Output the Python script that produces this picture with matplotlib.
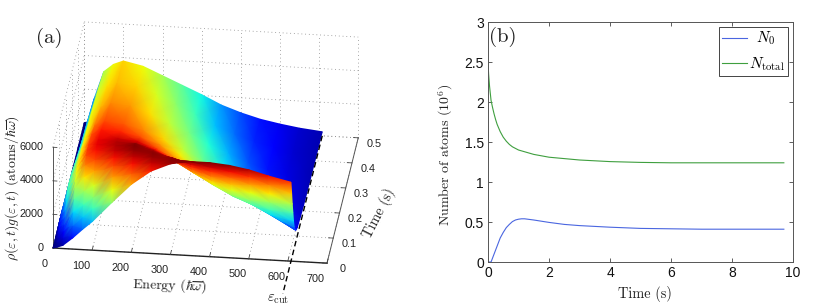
import numpy as np
import matplotlib
matplotlib.use("Agg")
import matplotlib.pyplot as plt
from mpl_toolkits.mplot3d import proj3d

plt.rcParams['mathtext.fontset'] = 'cm'
plt.rcParams['font.family'] = ['Liberation Sans', 'DejaVu Sans']
plt.rcParams['axes.unicode_minus'] = False

# ---------- data, panel (a) ----------
energy = [0, 10, 25, 50, 75, 100, 150, 200, 250, 300, 350, 400, 450, 500, 550, 608]
times_a = [0, .01, .02, .03, .04, .05, .065, .08, .1, .15, .2, .3, .4, .5]
density = [
    [0, 60, 190, 660, 1200, 1700, 2900, 4050, 4900, 5400, 5600, 5600, 5500, 5300, 5000, 4700],
    [0, 150, 450, 1200, 1750, 2300, 3500, 4500, 5200, 5500, 5450, 5200, 5000, 4750, 4350, 3900],
    [0, 300, 700, 1900, 2350, 2800, 4100, 4950, 5400, 5450, 5150, 4800, 4500, 4150, 3650, 3100],
    [0, 450, 950, 2500, 3000, 3400, 4600, 5200, 5500, 5300, 4850, 4350, 3950, 3500, 3000, 2450],
    [0, 600, 1250, 3000, 3700, 4100, 4950, 5450, 5450, 5100, 4550, 3950, 3450, 2900, 2400, 1800],
    [0, 750, 1550, 3300, 4250, 4600, 5200, 5600, 5350, 4900, 4250, 3600, 3000, 2500, 1950, 1300],
    [0, 900, 1950, 3500, 4600, 4950, 5300, 5500, 5150, 4600, 3950, 3300, 2700, 2250, 1650, 900],
    [0, 1000, 2250, 3650, 4700, 5050, 5300, 5300, 4950, 4400, 3700, 3100, 2500, 2050, 1450, 650],
    [0, 950, 2370, 3700, 4700, 5050, 5200, 5100, 4700, 4150, 3500, 2900, 2300, 1800, 1200, 500],
    [0, 750, 2300, 3700, 4600, 4900, 4850, 4600, 4200, 3650, 3000, 2400, 1850, 1350, 850, 400],
    [0, 550, 2100, 3600, 4400, 4650, 4550, 4250, 3800, 3250, 2650, 2050, 1500, 1100, 650, 320],
    [0, 280, 1800, 3550, 4000, 4250, 4150, 3750, 3250, 2750, 2150, 1650, 1150, 800, 480, 270],
    [0, 120, 1650, 3350, 3750, 3950, 3800, 3400, 2900, 2350, 1750, 1300, 900, 650, 410, 250],
    [0, 60, 1440, 3100, 3570, 3800, 3550, 3050, 2550, 2050, 1500, 1100, 780, 560, 380, 240],
]
energy_cut = 608
energy_ticks = [0, 100, 200, 300, 400, 500, 600, 700]
time_ticks_a = [0, .1, .2, .3, .4, .5]
density_ticks = [0, 2000, 4000, 6000]

# ---------- data, panel (b) ----------
t_n0 = [0, .1, .2, .3, .4, .5, .6, .7, .8, .9, 1, 1.1, 1.2, 1.5, 2, 2.5, 3, 4, 5, 6, 7, 8, 9.7]
n0 = [0, 0, .1, .2, .3, .37, .43, .47, .505, .525, .535, .54, .54, .525, .495, .47, .455, .435, .42, .415, .41, .41, .41]
t_total = [0, .02, .05, .1, .15, .2, .25, .3, .4, .5, .6, .7, .8, 1, 1.5, 2, 3, 4, 5, 6, 7, 9.7]
n_total = [2.5, 2.35, 2.2, 2.02, 1.93, 1.85, 1.78, 1.72, 1.63, 1.56, 1.51, 1.47, 1.44, 1.4, 1.345, 1.31, 1.275, 1.255, 1.245, 1.24, 1.24, 1.24]

W, H = 830, 307
fig = plt.figure(figsize=(W / 100, H / 100), dpi=100)

# ---------- panel (a) frame ----------
ax = fig.add_axes([0.0, 0.0, 0.5, 1.0], projection='3d', proj_type='ortho')
ax.view_init(elev=28.1, azim=-83.3)
ax.set_box_aspect((273.9, 266, 113.4))
ax.set_axis_off()
ax.patch.set_visible(False)

Emax, Tmax, Zmax = 700, .5, 6000
grid = dict(color='#8c8c8c', lw=0.6, ls=(0, (1, 3.5)))
for e in energy_ticks:
    ax.plot([e, e], [0, Tmax], [0, 0], **grid)
    ax.plot([e, e], [Tmax, Tmax], [0, Zmax], **grid)
for t in time_ticks_a:
    ax.plot([0, Emax], [t, t], [0, 0], **grid)
    ax.plot([0, 0], [t, t], [0, Zmax], **grid)
for z in density_ticks:
    ax.plot([0, Emax], [Tmax, Tmax], [z, z], **grid)
    ax.plot([0, 0], [0, Tmax], [z, z], **grid)

ax.plot([0, Emax], [0, 0], [0, 0], color='#222222', lw=1.0)
ax.plot([Emax, Emax], [0, Tmax], [0, 0], color='#555555', lw=0.7)
ax.plot([0, 0], [0, 0], [0, Zmax], color='#555555', lw=0.7)
for e in energy_ticks:
    ax.plot([e, e], [0, 0.016], [0, 0], color='#444444', lw=0.6)
for t in time_ticks_a:
    ax.plot([Emax, Emax - 12], [t, t], [0, 0], color='#444444', lw=0.6)
for z in density_ticks:
    ax.plot([0, 10], [0, 0], [z, z], color='#444444', lw=0.6)

ax.set_xlim(0, Emax)
ax.set_ylim(0, Tmax)
ax.set_zlim(0, Zmax)
ax.set_xticks([])
ax.set_yticks([])
ax.set_zticks([])


def project(e, t, z):
    return proj3d.proj_transform(np.atleast_1d(np.array(e, float)), np.atleast_1d(np.array(t, float)),
                                 np.atleast_1d(np.array(z, float)), ax.get_proj())[:2]


def to_display(e, t, z):
    x, y = project(e, t, z)
    return ax.transData.transform((x[0], y[0]))


# place the 3D box so that its x axis lands at the reference position
side, cx, cy = 400.0, 190.0, 150.0
target0 = np.array([53.0, H - 248.0])
target1 = np.array([327.0, H - 263.0])
for _ in range(3):
    ax.set_position([(cx - side / 2) / W, (cy - side / 2) / H, side / W, side / H])
    ax.apply_aspect()
    p0, p1 = to_display(0, 0, 0), to_display(Emax, 0, 0)
    side *= np.linalg.norm(target1 - target0) / np.linalg.norm(p1 - p0)
    ax.set_position([(cx - side / 2) / W, (cy - side / 2) / H, side / W, side / H])
    ax.apply_aspect()
    p0 = to_display(0, 0, 0)
    cx += target0[0] - p0[0]
    cy += target0[1] - p0[1]
ax.set_position([(cx - side / 2) / W, (cy - side / 2) / H, side / W, side / H])
ax.apply_aspect()

# ---------- panel (a) surface: gouraud mesh on the projected grid, back to front ----------
over = fig.add_axes(ax.get_position(), zorder=3)
over.set_axis_off()
over.patch.set_visible(False)
over.set_xlim(*ax.viewLim.intervalx)
over.set_ylim(*ax.viewLim.intervaly)
over.set_xticks([])
over.set_yticks([])

E, T = np.meshgrid(np.array(energy, float), np.array(times_a, float)[::-1])
Zv = np.array(density, float)[::-1]
X2, Y2 = project(E.ravel(), T.ravel(), Zv.ravel())
over.pcolormesh(np.reshape(X2, E.shape), np.reshape(Y2, E.shape), Zv,
                shading='gouraud', cmap='jet', vmin=0, vmax=5550)

xd, yd = project([energy_cut, energy_cut], [Tmax, -0.13], [0, 0])
over.plot(xd, yd, color='black', lw=1.0, ls=(0, (4, 2.5)), clip_on=False)

tick_font = dict(fontsize=7.8, color='#222222', va='center')
for e in energy_ticks:
    x, y = project(e - 12 if e == 0 else e - 18, -0.064, 0)
    over.text(x[0], y[0], str(e), ha='center', **tick_font)
for t in time_ticks_a:
    x, y = project(Emax + 40, t, -300)
    over.text(x[0], y[0], '0' if t == 0 else f'{t:.1f}', ha='center', **tick_font)
for z in density_ticks:
    x, y = project(-23, 0, z)
    over.text(x[0], y[0], str(z), ha='right', **tick_font)


def ftext(px, py, s, **kw):
    kw.setdefault('ha', 'center')
    kw.setdefault('va', 'center')
    return fig.text(px / W, 1 - py / H, s, zorder=5, **kw)


lab = dict(family='cmr10', color='#222222')
ftext(49, 38, '(a)', fontsize=15, **lab)
ftext(170, 285, r'Energy ($\hbar\overline{\omega}$)', fontsize=10, rotation=-2, **lab)
ftext(12, 188, r'$\rho(\varepsilon,t)g(\varepsilon,t)$ (atoms/$\hbar\overline{\omega}$)',
      fontsize=10, rotation=90, **lab)
ftext(379, 213, 'Time (s)', fontsize=10.3, rotation=63, **lab)
ftext(278, 299, r'$\varepsilon_{\rm cut}$', fontsize=10.5, **lab)

# ---------- panel (b) ----------
bx = fig.add_axes([488 / W, 1 - 262 / H, 305 / W, 240 / H])
line0, = bx.plot(t_n0, n0, color='#4a66e0', lw=0.8, label=r'$\;\;N_0$')
line1, = bx.plot(t_total, n_total, color='#3f9f3f', lw=0.8, label=r'$N_{\rm total}$')
bx.set_xlim(0, 10)
bx.set_ylim(0, 3)
bx.set_xticks([0, 2, 4, 6, 8, 10])
bx.set_yticks([0, .5, 1, 1.5, 2, 2.5, 3])
bx.set_yticklabels(['0', '0.5', '1', '1.5', '2', '2.5', '3'])
bx.tick_params(direction='in', top=True, right=True, length=3, width=0.6,
               labelsize=10, color='#444444', labelcolor='#111111', pad=3)
for s in bx.spines.values():
    s.set_linewidth(0.7)
    s.set_color('#555555')
leg = bx.legend(loc='upper right', bbox_to_anchor=(0.984, 0.98), borderaxespad=0, fancybox=False,
                framealpha=1, edgecolor='#444444', fontsize=11, handlelength=1.65,
                handletextpad=0.12, labelspacing=0.5, borderpad=0.2)
leg.get_frame().set_linewidth(0.7)
ftext(503, 37, '(b)', fontsize=15, **lab)
ftext(645, 294, 'Time (s)', fontsize=10.3, **lab)
ftext(446, 155, r'Number of atoms ($10^6$)', fontsize=10, rotation=90, **lab)

fig.savefig('out.png', dpi=100)
